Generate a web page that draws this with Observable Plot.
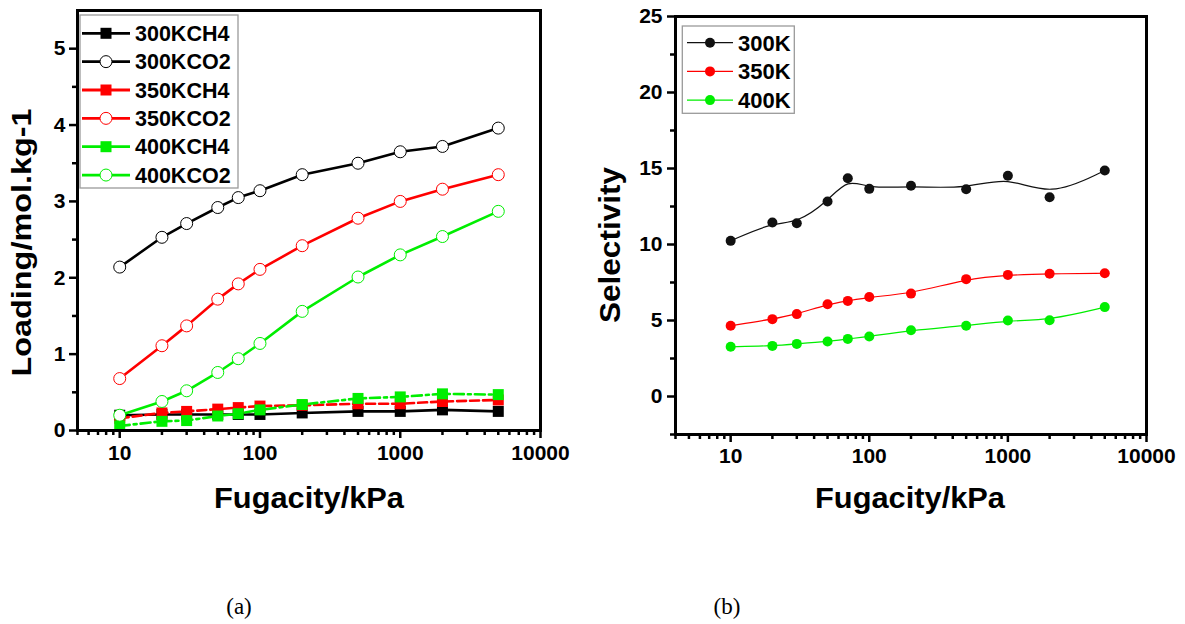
<!DOCTYPE html>
<html>
<head>
<meta charset="utf-8">
<script src="https://cdn.jsdelivr.net/npm/d3@7"></script>
<script src="https://cdn.jsdelivr.net/npm/@observablehq/plot@0.6"></script>
<style>
  html, body { margin: 0; padding: 0; background: #fff; }
  #wrap { position: relative; width: 1185px; height: 624px; overflow: hidden; background: #fff; }
  #wrap svg { position: absolute; top: 0; }
</style>
</head>
<body>
<div id="wrap"></div>
<script>
// ---------- data ----------
const fugacity = [10, 20, 30, 50, 70, 100, 200, 500, 1000, 2000, 5000];

const load300CH4 = [0.20, 0.21, 0.21, 0.21, 0.21, 0.21, 0.23, 0.25, 0.25, 0.27, 0.25];
const load300CO2 = [2.14, 2.53, 2.71, 2.92, 3.05, 3.14, 3.35, 3.50, 3.65, 3.72, 3.96];
const load350CH4 = [0.16, 0.23, 0.25, 0.28, 0.30, 0.32, 0.33, 0.35, 0.35, 0.38, 0.40];
const load350CO2 = [0.68, 1.11, 1.37, 1.72, 1.92, 2.11, 2.42, 2.78, 3.00, 3.16, 3.35];
const load400CH4 = [0.06, 0.12, 0.13, 0.19, 0.22, 0.27, 0.34, 0.42, 0.44, 0.48, 0.47];
const load400CO2 = [0.20, 0.38, 0.52, 0.76, 0.94, 1.14, 1.56, 2.01, 2.30, 2.54, 2.87];

const sel300 = [10.24, 11.45, 11.40, 12.83, 14.36, 13.66, 13.86, 13.64, 14.52, 13.11, 14.87];
const sel350 = [4.65, 5.09, 5.42, 6.07, 6.29, 6.55, 6.77, 7.72, 8.00, 8.07, 8.11];
const sel400 = [3.27, 3.33, 3.46, 3.62, 3.79, 3.95, 4.36, 4.65, 5.00, 5.02, 5.88];

const loadingSeries = ["300KCH4", "300KCO2", "350KCH4", "350KCO2", "400KCH4", "400KCO2"];
const selectivitySeries = ["300K", "350K", "400K"];

const xTickValues = [10, 100, 1000, 10000];
const leftYTickValues = [0, 1, 2, 3, 4, 5];
const rightYTickValues = [0, 5, 10, 15, 20, 25];

const xLabel = "Fugacity/kPa";
const leftYLabel = "Loading/mol.kg-1";
const rightYLabel = "Selectivity";
const captions = ["(a)", "(b)"];

// ---------- tables ----------
const loadArrays = [load300CH4, load300CO2, load350CH4, load350CO2, load400CH4, load400CO2];
const loadTable = loadingSeries.flatMap((s, k) =>
  loadArrays[k].map((v, i) => ({series: s, f: fugacity[i], v})));
const selArrays = [sel300, sel350, sel400];
const selTable = selectivitySeries.flatMap((s, k) =>
  selArrays[k].map((v, i) => ({series: s, f: fugacity[i], v})));

// ---------- styles ----------
const BLACK = "#000000", RED = "#ff0000", GREEN = "#00ee00";
const loadStyle = {
  "300KCH4": {color: BLACK, symbol: "square", dash: null},
  "300KCO2": {color: BLACK, symbol: "circle", dash: null},
  "350KCH4": {color: RED, symbol: "square", dash: "9,4"},
  "350KCO2": {color: RED, symbol: "circle", dash: null},
  "400KCH4": {color: GREEN, symbol: "square", dash: "10,4,3,4"},
  "400KCO2": {color: GREEN, symbol: "circle", dash: null}
};
const selColor = {"300K": "#111111", "350K": RED, "400K": GREEN};

const FONT = "'Liberation Sans', Arial, Helvetica, sans-serif";

function minorLog(lo, hi) {
  const out = [];
  for (const d of [1, 10, 100, 1000]) for (let m = 2; m <= 9; m++) {
    const v = m * d; if (v >= lo && v <= hi) out.push(v);
  }
  return out;
}

function squareOrCircle(d, st) {
  return st.symbol === "square"
    ? Plot.dot(d, {x: "f", y: "v", symbol: "square", r: 6.2, fill: st.color, stroke: "none"})
    : Plot.dot(d, {x: "f", y: "v", symbol: "circle", r: 6, fill: "white", stroke: st.color, strokeWidth: 1});
}

// ---------- left chart ----------
const leftPlot = Plot.plot({
  width: 590, height: 520,
  marginLeft: 77, marginRight: 50, marginTop: 10, marginBottom: 90,
  x: {type: "log", domain: [5, 10000], label: null},
  y: {domain: [0, 5.5], label: null},
  style: {fontFamily: FONT, background: "transparent", overflow: "visible", color: "black"},
  marks: [
    Plot.axisY([0.5, 1.5, 2.5, 3.5, 4.5], {tickSize: 5, tickFormat: () => "", strokeWidth: 2.5, label: null}),
    Plot.axisY(leftYTickValues, {tickSize: 8, tickPadding: 4, strokeWidth: 2.5, fontSize: 21, fontWeight: "bold", tickFormat: d3.format("d"), label: null}),
    Plot.axisX(minorLog(5, 10000), {tickSize: 5, tickFormat: () => "", strokeWidth: 2.5, label: null}),
    Plot.axisX(xTickValues, {tickSize: 8, tickPadding: 7, strokeWidth: 2.5, fontSize: 21, fontWeight: "bold", tickFormat: d3.format("d"), label: null}),
    ...loadingSeries.flatMap(s => {
      const st = loadStyle[s];
      const d = loadTable.filter(r => r.series === s);
      return [
        Plot.line(d, {x: "f", y: "v", stroke: st.color, strokeWidth: 2.6, strokeDasharray: st.dash}),
        squareOrCircle(d, st)
      ];
    }),
    Plot.frame({stroke: "black", strokeWidth: 3})
  ]
});
leftPlot.style.left = "0px";

// ---------- right chart ----------
const rightPlot = Plot.plot({
  width: 595, height: 520,
  marginLeft: 85, marginRight: 39, marginTop: 16, marginBottom: 86,
  x: {type: "log", domain: [4, 10000], label: null},
  y: {domain: [-2.5, 25], label: null},
  style: {fontFamily: FONT, background: "transparent", overflow: "visible", color: "black"},
  marks: [
    Plot.axisY([-2.5, 2.5, 7.5, 12.5, 17.5, 22.5], {tickSize: 5, tickFormat: () => "", strokeWidth: 2.5, label: null}),
    Plot.axisY(rightYTickValues, {tickSize: 8, tickPadding: 5, strokeWidth: 2.5, fontSize: 21, fontWeight: "bold", tickFormat: d3.format("d"), label: null}),
    Plot.axisX(minorLog(4, 10000), {tickSize: 5, tickFormat: () => "", strokeWidth: 2.5, label: null}),
    Plot.axisX(xTickValues, {tickSize: 8, tickPadding: 6, strokeWidth: 2.5, fontSize: 21, fontWeight: "bold", tickFormat: d3.format("d"), label: null}),
    ...selectivitySeries.flatMap(s => {
      const d = selTable.filter(r => r.series === s);
      return [
        Plot.line(d, {x: "f", y: "v", stroke: selColor[s], strokeWidth: 1.2, curve: "basis"}),
        Plot.dot(d, {x: "f", y: "v", r: 5, fill: selColor[s], stroke: "none"})
      ];
    }),
    Plot.frame({stroke: "black", strokeWidth: 3})
  ]
});
rightPlot.style.left = "590px";

const wrap = document.getElementById("wrap");
wrap.appendChild(leftPlot);
wrap.appendChild(rightPlot);

// ---------- overlay: titles, legends, captions ----------
const ov = d3.select(wrap).append("svg")
  .attr("width", 1185).attr("height", 624)
  .style("left", "0px").style("pointer-events", "none")
  .style("font-family", FONT);

// axis titles
ov.append("text").attr("x", 309).attr("y", 508).attr("text-anchor", "middle")
  .attr("font-size", 29).attr("font-weight", "bold")
  .attr("textLength", 190).attr("lengthAdjust", "spacingAndGlyphs").text(xLabel);
ov.append("text").attr("x", 910).attr("y", 508).attr("text-anchor", "middle")
  .attr("font-size", 29).attr("font-weight", "bold")
  .attr("textLength", 190).attr("lengthAdjust", "spacingAndGlyphs").text(xLabel);
ov.append("text").attr("transform", "translate(31,242.5) rotate(-90)").attr("text-anchor", "middle")
  .attr("font-size", 28).attr("font-weight", "bold")
  .attr("textLength", 268).attr("lengthAdjust", "spacingAndGlyphs").text(leftYLabel);
ov.append("text").attr("transform", "translate(620,245) rotate(-90)").attr("text-anchor", "middle")
  .attr("font-size", 29).attr("font-weight", "bold")
  .attr("textLength", 156).attr("lengthAdjust", "spacingAndGlyphs").text(rightYLabel);

// left legend
const lg = ov.append("g");
lg.append("rect").attr("x", 80).attr("y", 15).attr("width", 158).attr("height", 173)
  .attr("fill", "white").attr("stroke", "#9a9a9a").attr("stroke-width", 1.3);
loadingSeries.forEach((s, i) => {
  const st = loadStyle[s];
  const y = 33.3 + i * 28.35;
  lg.append("line").attr("x1", 82).attr("x2", 130).attr("y1", y).attr("y2", y)
    .attr("stroke", st.color).attr("stroke-width", 2.8);
  if (st.symbol === "square") {
    lg.append("rect").attr("x", 100.5).attr("y", y - 5.5).attr("width", 11).attr("height", 11).attr("fill", st.color);
  } else {
    lg.append("circle").attr("cx", 106).attr("cy", y).attr("r", 6).attr("fill", "white").attr("stroke", st.color).attr("stroke-width", 1);
  }
  lg.append("text").attr("x", 135).attr("y", y + 7.6).attr("font-size", 21.5).attr("font-weight", "bold").text(s);
});

// right legend
const rg = ov.append("g");
rg.append("rect").attr("x", 682.3).attr("y", 26).attr("width", 112).attr("height", 87.3)
  .attr("fill", "white").attr("stroke", "#9a9a9a").attr("stroke-width", 1.3);
selectivitySeries.forEach((s, i) => {
  const y = 42.7 + i * 28.7;
  rg.append("line").attr("x1", 687).attr("x2", 733).attr("y1", y).attr("y2", y)
    .attr("stroke", selColor[s]).attr("stroke-width", 1.2);
  rg.append("circle").attr("cx", 710).attr("cy", y).attr("r", 5).attr("fill", selColor[s]);
  rg.append("text").attr("x", 738).attr("y", y + 7.8).attr("font-size", 22).attr("font-weight", "bold").text(s);
});

// captions
ov.append("text").attr("x", 239).attr("y", 614).attr("text-anchor", "middle")
  .attr("font-family", "'Liberation Serif', 'Times New Roman', serif").attr("font-size", 23).text(captions[0]);
ov.append("text").attr("x", 727).attr("y", 614).attr("text-anchor", "middle")
  .attr("font-family", "'Liberation Serif', 'Times New Roman', serif").attr("font-size", 23).text(captions[1]);
</script>
</body>
</html>
